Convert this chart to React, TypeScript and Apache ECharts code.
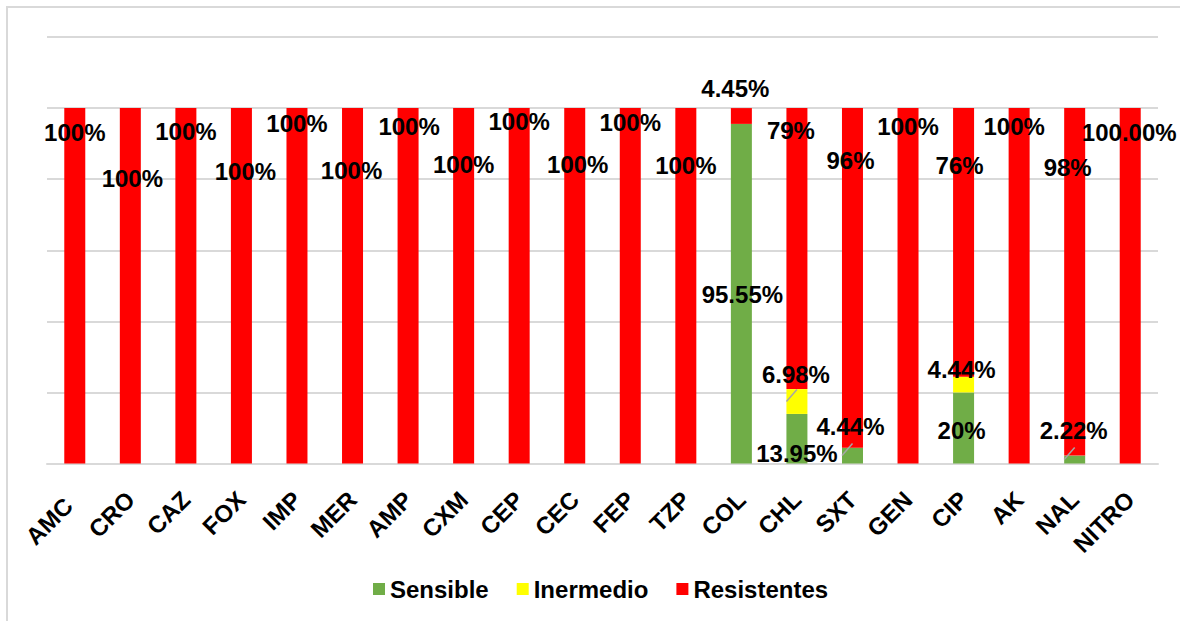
import React, { useEffect, useRef } from 'react';
import * as echarts from 'echarts';

const categories = ['AMC', 'CRO', 'CAZ', 'FOX', 'IMP', 'MER', 'AMP', 'CXM', 'CEP', 'CEC', 'FEP', 'TZP', 'COL', 'CHL', 'SXT', 'GEN', 'CIP', 'AK', 'NAL', 'NITRO'];
const sensible = [0, 0, 0, 0, 0, 0, 0, 0, 0, 0, 0, 0, 95.55, 13.95, 4.44, 0, 20, 0, 2.22, 0];
const intermedio = [0, 0, 0, 0, 0, 0, 0, 0, 0, 0, 0, 0, 0, 6.98, 0, 0, 4.44, 0, 0, 0];
const resistentes = [100, 100, 100, 100, 100, 100, 100, 100, 100, 100, 100, 100, 4.45, 79.07, 95.56, 100, 75.56, 100, 97.78, 100];

const sensibleLabels = ['', '', '', '', '', '', '', '', '', '', '', '', '95.55%', '13.95%', '4.44%', '', '20%', '', '2.22%', ''];
const intermedioLabels = ['', '', '', '', '', '', '', '', '', '', '', '', '', '6.98%', '', '', '4.44%', '', '', ''];
const resistLabels = ['100%', '100%', '100%', '100%', '100%', '100%', '100%', '100%', '100%', '100%', '100%', '100%', '4.45%', '79%', '96%', '100%', '76%', '100%', '98%', '100.00%'];

// label offsets (style) relative to the segment centre, px
const resistOffsets = [[0, -153], [2, -107], [0, -154], [4, -114], [0, -162], [-1, -115], [1, -159], [0, -121], [0, -164], [3, -121], [0, -163], [0, -120], [-6, -27], [-6, -118], [-2, -117], [0, -159], [-4, -77], [-5, -159], [-7, -114], [-1, -153]];
const sensibleOffsets: Record<number, number[]> = { 12: [1, 1], 13: [0, 15], 14: [-2, -29], 16: [-2, 3], 18: [-1, -29] };
const intermedioOffsets: Record<number, number[]> = { 13: [-1, -27], 16: [-2, -15] };

const leaders = [
  { series: 1, cat: 'CHL' },
  { series: 0, cat: 'SXT' },
  { series: 0, cat: 'NAL' },
];

const FONT = '"Liberation Sans", Arial, sans-serif';
const FS = 24;
const BAR_W = 21;

function buildData(values: number[], labels: string[], offsets: (i: number) => number[]) {
  return values.map((v, i) => ({
    value: v,
    label: { show: labels[i] !== '', offset: offsets(i) },
  }));
}

export default function App() {
  const ref = useRef<HTMLDivElement>(null);
  useEffect(() => {
    if (!ref.current) return;
    const chart = echarts.init(ref.current, null, { renderer: 'svg' });
    const labelStyle = {
      show: true,
      position: 'inside',
      color: '#000',
      fontSize: FS,
      fontWeight: 'bold',
      fontFamily: FONT,
    };
    const mk = (name: string, color: string, values: number[], labels: string[], offs: (i: number) => number[]) => ({
      name,
      type: 'bar',
      stack: 'total',
      barWidth: BAR_W,
      itemStyle: { color },
      label: { ...labelStyle, formatter: (p: any) => labels[p.dataIndex] },
      data: buildData(values, labels, offs),
    });
    const option: any = {
      animation: false,
      backgroundColor: '#fff',
      grid: { left: 47, right: 22, top: 37, bottom: 157.5, containLabel: false },
      legend: {
        data: ['Sensible', 'Inermedio', 'Resistentes'],
        left: 373,
        top: 577,
        padding: 0,
        icon: 'rect',
        itemWidth: 12,
        itemHeight: 12,
        itemGap: 28,
        textStyle: { fontSize: FS, fontWeight: 'bold', color: '#000', fontFamily: FONT },
      },
      xAxis: {
        type: 'category',
        data: categories.map((c, i) => (i === 0 ? { value: c, textStyle: { padding: [12, 9, 0, 0] } } : c)),
        axisTick: { show: false },
        axisLine: { lineStyle: { color: '#d9d9d9', width: 2 } },
        axisLabel: {
          interval: 0,
          rotate: 45,
          margin: 32,
          fontSize: FS,
          fontWeight: 'bold',
          color: '#000',
          fontFamily: FONT,
        },
      },
      yAxis: {
        type: 'value',
        min: 0,
        max: 120,
        interval: 20,
        axisLabel: { show: false },
        axisLine: { show: false },
        axisTick: { show: false },
        splitLine: { lineStyle: { color: '#d9d9d9', width: 2 } },
      },
      series: [
        mk('Sensible', '#70ad47', sensible, sensibleLabels, (i) => sensibleOffsets[i] || [0, 0]),
        mk('Inermedio', '#ffff00', intermedio, intermedioLabels, (i) => intermedioOffsets[i] || [0, 0]),
        mk('Resistentes', '#ff0000', resistentes, resistLabels, (i) => resistOffsets[i]),
      ],
    };
    chart.setOption(option);

    const stacks = [sensible, intermedio, resistentes];
    const lines = leaders.map((l) => {
      const i = categories.indexOf(l.cat);
      let base = 0;
      for (let s = 0; s < l.series; s++) base += stacks[s][i];
      const mid = base + stacks[l.series][i] / 2;
      const [x, y] = chart.convertToPixel({ gridIndex: 0 }, [i, mid]) as number[];
      return {
        type: 'line',
        silent: true,
        z: 100,
        shape: { x1: x - BAR_W / 2, y1: y, x2: x, y2: y - 12 },
        style: { stroke: '#a6a6a6', lineWidth: 1.5 },
      };
    });
    chart.setOption({
      graphic: [
        {
          type: 'rect',
          silent: true,
          shape: { x: 7, y: 7, width: 1300, height: 800 },
          style: { fill: 'none', stroke: '#d9d9d9', lineWidth: 2 },
        },
        ...lines,
      ],
    });
    return () => chart.dispose();
  }, []);
  return <div ref={ref} style={{ position: 'fixed', left: 0, top: 0, width: 1180, height: 621 }} />;
}
